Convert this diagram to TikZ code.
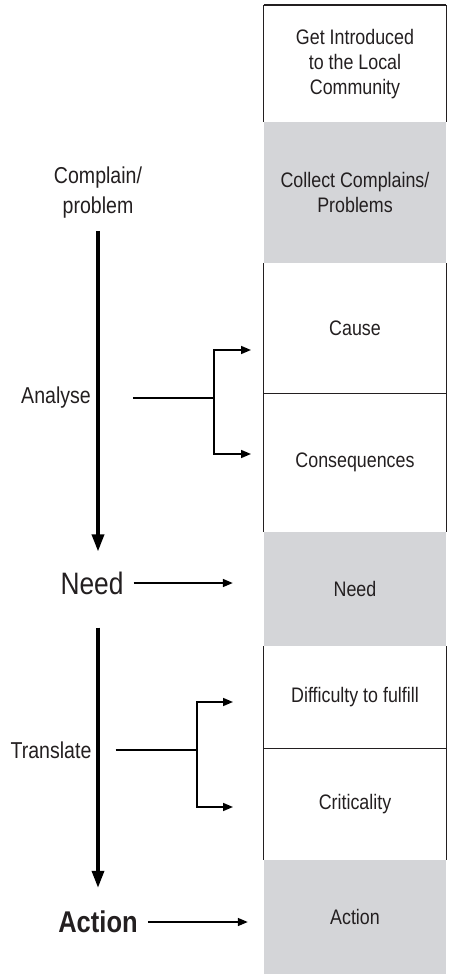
\documentclass[tikz,border=0pt]{standalone}
\usepackage{fontspec}
\setmainfont{Liberation Sans}[FakeStretch=0.85]
\usetikzlibrary{arrows.meta}
\definecolor{boxgray}{RGB}{212,213,216}
\definecolor{ink}{RGB}{35,31,32}
\begin{document}
\begin{tikzpicture}[x=1pt, y=-1pt,
  stage/.style={minimum width=182pt, inner sep=0pt, anchor=north, align=center, text=ink, font={\fontsize{21}{25}\selectfont}},
  shaded/.style={stage, fill=boxgray},
  sidetext/.style={inner sep=0pt, align=center, text=ink, font={\fontsize{23}{30}\selectfont}},
  flow/.style={line width=3.4pt, draw=black, -{Triangle[length=17pt,width=12pt]}},
  branch/.style={line width=1.6pt, draw=black},
  feed/.style={line width=1.6pt, draw=black, -{Triangle[length=10pt,width=8pt]}},
  wall/.style={line width=1.2pt, draw=ink}]
\useasboundingbox (0,0) rectangle (448,974);
\node[stage, minimum height=117pt] (intro) at (355,5) {Get Introduced\\to the Local\\Community};
\node[shaded, minimum height=141pt] (collect) at (355,122) {Collect Complains/\\Problems};
\node[stage, minimum height=130pt] (cause) at (355,263) {Cause};
\node[stage, minimum height=139pt] (cons) at (355,393) {Consequences};
\node[shaded, minimum height=114pt] (need) at (355,532) {Need};
\node[stage, minimum height=102pt] (diff) at (355,646) {Difficulty to fulfill};
\node[stage, minimum height=112pt] (crit) at (355,748) {Criticality};
\node[shaded, minimum height=114pt] (action) at (355,860) {Action};
\draw[line width=2.6pt, draw=ink] (intro.north west) -- (intro.north east);
\draw[wall] (intro.north west) -- (intro.south west);
\draw[wall] (intro.north east) -- (intro.south east);
\draw[wall] (cause.north west) -- (cons.south west);
\draw[wall] (cause.north east) -- (cons.south east);
\draw[wall] (cause.south west) -- (cause.south east);
\draw[wall] (diff.north west) -- (crit.south west);
\draw[wall] (diff.north east) -- (crit.south east);
\draw[wall] (diff.south west) -- (diff.south east);
\node[sidetext] (complain) at (98,193) {Complain/\\problem};
\node[sidetext] (analyse) at (56,398) {Analyse};
\node[sidetext, font={\fontsize{31}{36}\selectfont}] (needl) at (92,583) {Need};
\node[sidetext] (translate) at (51,750) {Translate};
\node[sidetext, font={\fontsize{30}{36}\bfseries\selectfont}] (actionl) at (98,922) {Action};
\coordinate (afork) at (214,398);
\coordinate (causein) at (251,350);
\coordinate (consin) at (251,454);
\coordinate (tfork) at (197,750);
\coordinate (diffin) at (233,702);
\coordinate (critin) at (233,807);
\draw[flow, shorten <=12pt, shorten >=20pt] (complain.south) -- (complain.south |- needl.north);
\draw[flow, shorten <=33pt, shorten >=23pt] (complain.south |- needl.south) -- (complain.south |- actionl.north);
\draw[branch, shorten <=42pt] (analyse) -- (afork);
\draw[feed] (afork) |- (causein);
\draw[feed] (afork) |- (consin);
\draw[feed, shorten <=10pt, shorten >=31pt] (needl.east) -- (needl.east -| need.west);
\draw[branch, shorten <=24pt] (translate) -- (tfork);
\draw[feed] (tfork) |- (diffin);
\draw[feed] (tfork) |- (critin);
\draw[feed, shorten <=10pt, shorten >=16pt] (actionl.east) -- (actionl.east -| action.west);
\end{tikzpicture}
\end{document}
